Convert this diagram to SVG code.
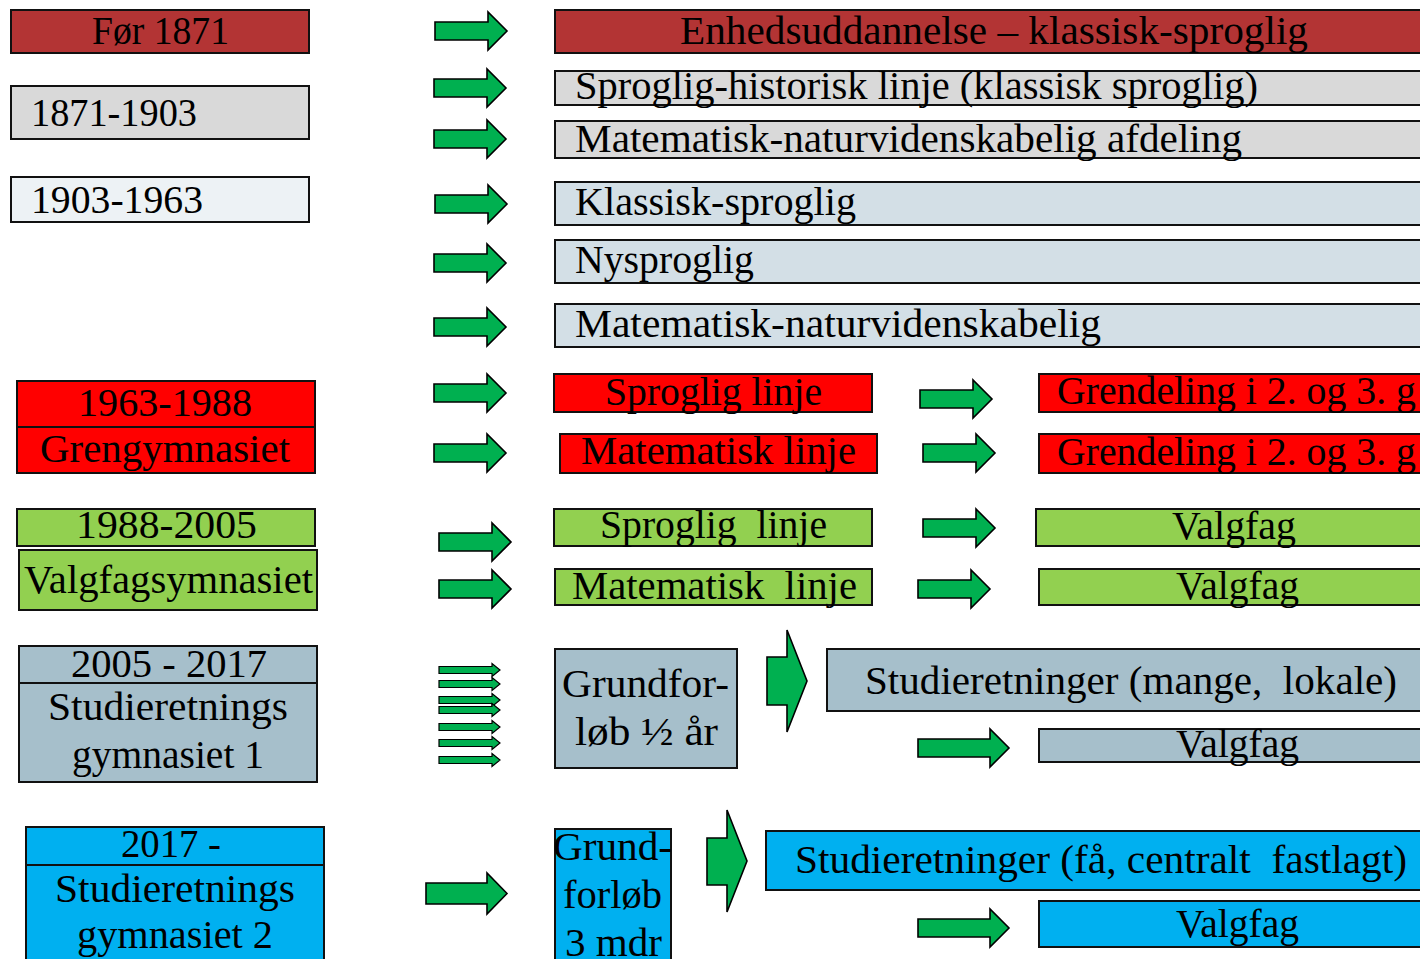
<svg xmlns="http://www.w3.org/2000/svg" xmlns:xlink="http://www.w3.org/1999/xlink" width="1420" height="959" viewBox="0 0 1420 959">
<style>
  .box { stroke: #111; stroke-width: 2; }
  .t { font-family: "Liberation Serif", "Times New Roman", serif; font-size: 40px; fill: #000; }
  .arr { fill: #00B050; stroke: #000; stroke-width: 1.6; stroke-linejoin: miter; }
  .thin { fill: #00B050; stroke: #000; stroke-width: 1.2; }
  .dkred { fill: #B33434; }
  .lgray { fill: #D9D9D9; }
  .pale { fill: #EDF2F5; }
  .lblue { fill: #D3DFE6; }
  .red { fill: #FF0000; }
  .green { fill: #92D050; }
  .steel { fill: #A6BFCB; }
  .cyan { fill: #00B0F0; }
</style>
<defs>
  <path id="arrow" d="M0,-9 H53 V-19 L72,0 L53,19 V9 H0 Z"/>
  <path id="arrowL" d="M0,-9 H72 V-19 L91,0 L72,19 V9 H0 Z"/>
  <path id="arrowT" d="M0,-3.5 H53 V-6.5 L61,0 L53,6.5 V3.5 H0 Z"/>
</defs>
<rect x="0" y="0" width="1420" height="959" fill="#fff"/>

<!-- Left column: periods -->
<g id="p-before1871">
  <rect class="box dkred" x="11" y="10" width="298" height="43"/>
  <text class="t" x="92" y="44" textLength="137" lengthAdjust="spacingAndGlyphs">Før 1871</text>
</g>
<g id="p-1871-1903">
  <rect class="box lgray" x="11" y="86" width="298" height="53"/>
  <text class="t" x="31" y="126" textLength="166" lengthAdjust="spacingAndGlyphs">1871-1903</text>
</g>
<g id="p-1903-1963">
  <rect class="box pale" x="11" y="177" width="298" height="45"/>
  <text class="t" x="31" y="213" textLength="172" lengthAdjust="spacingAndGlyphs">1903-1963</text>
</g>
<g id="p-1963-1988">
  <rect class="box red" x="17" y="381" width="298" height="92"/>
  <line x1="17" y1="427" x2="315" y2="427" stroke="#111" stroke-width="2"/>
  <text class="t" x="78" y="416" textLength="174" lengthAdjust="spacingAndGlyphs">1963-1988</text>
  <text class="t" x="40" y="462" textLength="250" lengthAdjust="spacingAndGlyphs">Grengymnasiet</text>
</g>
<g id="p-1988-2005">
  <rect class="box green" x="17" y="509" width="298" height="37"/>
  <text class="t" x="76" y="538" textLength="181" lengthAdjust="spacingAndGlyphs">1988-2005</text>
</g>
<g id="p-valgfagsgym">
  <rect class="box green" x="19" y="550" width="298" height="60"/>
  <text class="t" x="24" y="593" textLength="289" lengthAdjust="spacingAndGlyphs">Valgfagsymnasiet</text>
</g>
<g id="p-2005-2017">
  <rect class="box steel" x="19" y="646" width="298" height="136"/>
  <line x1="19" y1="683" x2="317" y2="683" stroke="#111" stroke-width="2"/>
  <text class="t" x="71" y="677" textLength="196" lengthAdjust="spacingAndGlyphs">2005 - 2017</text>
  <text class="t" x="48" y="720" textLength="240" lengthAdjust="spacingAndGlyphs">Studieretnings</text>
  <text class="t" x="72" y="768" textLength="192" lengthAdjust="spacingAndGlyphs">gymnasiet 1</text>
</g>
<g id="p-2017">
  <rect class="box cyan" x="26" y="827" width="298" height="140"/>
  <line x1="26" y1="865" x2="324" y2="865" stroke="#111" stroke-width="2"/>
  <text class="t" x="121" y="857" textLength="100" lengthAdjust="spacingAndGlyphs">2017 -</text>
  <text class="t" x="55" y="902" textLength="240" lengthAdjust="spacingAndGlyphs">Studieretnings</text>
  <text class="t" x="77" y="948" textLength="196" lengthAdjust="spacingAndGlyphs">gymnasiet 2</text>
</g>

<!-- Right column: tracks -->
<g id="r-enhed">
  <rect class="box dkred" x="555" y="10" width="875" height="43"/>
  <text class="t" x="680" y="44" textLength="628" lengthAdjust="spacingAndGlyphs">Enhedsuddannelse – klassisk-sproglig</text>
</g>
<g id="r-sproghist">
  <rect class="box lgray" x="555" y="71" width="875" height="34"/>
  <text class="t" x="575" y="99" textLength="683" lengthAdjust="spacingAndGlyphs">Sproglig-historisk linje (klassisk sproglig)</text>
</g>
<g id="r-matnat-afd">
  <rect class="box lgray" x="555" y="121" width="875" height="37"/>
  <text class="t" x="575" y="152" textLength="667" lengthAdjust="spacingAndGlyphs">Matematisk-naturvidenskabelig afdeling</text>
</g>
<g id="r-klassisk">
  <rect class="box lblue" x="555" y="182" width="875" height="43"/>
  <text class="t" x="575" y="215" textLength="281" lengthAdjust="spacingAndGlyphs">Klassisk-sproglig</text>
</g>
<g id="r-nysproglig">
  <rect class="box lblue" x="555" y="240" width="875" height="43"/>
  <text class="t" x="575" y="273" textLength="179" lengthAdjust="spacingAndGlyphs">Nysproglig</text>
</g>
<g id="r-matnat">
  <rect class="box lblue" x="555" y="304" width="875" height="43"/>
  <text class="t" x="575" y="337" textLength="526" lengthAdjust="spacingAndGlyphs">Matematisk-naturvidenskabelig</text>
</g>
<g id="r-sproglig-red">
  <rect class="box red" x="554" y="374" width="318" height="38"/>
  <text class="t" x="605" y="405" textLength="217" lengthAdjust="spacingAndGlyphs">Sproglig linje</text>
</g>
<g id="r-mat-red">
  <rect class="box red" x="560" y="434" width="317" height="39"/>
  <text class="t" x="581" y="464" textLength="275" lengthAdjust="spacingAndGlyphs">Matematisk linje</text>
</g>
<g id="r-gren1">
  <rect class="box red" x="1039" y="374" width="391" height="38"/>
  <text class="t" x="1057" y="404" textLength="359" lengthAdjust="spacingAndGlyphs">Grendeling i 2. og 3. g</text>
</g>
<g id="r-gren2">
  <rect class="box red" x="1039" y="434" width="391" height="39"/>
  <text class="t" x="1057" y="465" textLength="359" lengthAdjust="spacingAndGlyphs">Grendeling i 2. og 3. g</text>
</g>
<g id="r-sproglig-green">
  <rect class="box green" x="554" y="509" width="318" height="37"/>
  <text class="t" x="600" y="538" textLength="227" lengthAdjust="spacingAndGlyphs" xml:space="preserve">Sproglig  linje</text>
</g>
<g id="r-mat-green">
  <rect class="box green" x="555" y="569" width="317" height="36"/>
  <text class="t" x="572" y="599" textLength="285" lengthAdjust="spacingAndGlyphs" xml:space="preserve">Matematisk  linje</text>
</g>
<g id="r-valgfag1">
  <rect class="box green" x="1036" y="509" width="394" height="37"/>
  <text class="t" x="1172" y="539" textLength="124" lengthAdjust="spacingAndGlyphs">Valgfag</text>
</g>
<g id="r-valgfag2">
  <rect class="box green" x="1039" y="569" width="391" height="36"/>
  <text class="t" x="1176" y="599" textLength="123" lengthAdjust="spacingAndGlyphs">Valgfag</text>
</g>
<g id="r-grundforloeb1">
  <rect class="box steel" x="555" y="649" width="182" height="119"/>
  <text class="t" x="562" y="697" textLength="167" lengthAdjust="spacingAndGlyphs">Grundfor-</text>
  <text class="t" x="575" y="745" textLength="143" lengthAdjust="spacingAndGlyphs">løb ½ år</text>
</g>
<g id="r-studie1">
  <rect class="box steel" x="827" y="649" width="603" height="62"/>
  <text class="t" x="865" y="694" textLength="532" lengthAdjust="spacingAndGlyphs" xml:space="preserve">Studieretninger (mange,  lokale)</text>
</g>
<g id="r-valgfag3">
  <rect class="box steel" x="1039" y="729" width="391" height="33"/>
  <text class="t" x="1176" y="757" textLength="123" lengthAdjust="spacingAndGlyphs">Valgfag</text>
</g>
<g id="r-grundforloeb2">
  <rect class="box cyan" x="555" y="829" width="116" height="140"/>
  <text class="t" x="553" y="860" textLength="119" lengthAdjust="spacingAndGlyphs">Grund-</text>
  <text class="t" x="563" y="908" textLength="99" lengthAdjust="spacingAndGlyphs">forløb</text>
  <text class="t" x="565" y="956" textLength="97" lengthAdjust="spacingAndGlyphs">3 mdr</text>
</g>
<g id="r-studie2">
  <rect class="box cyan" x="766" y="831" width="664" height="59"/>
  <text class="t" x="795" y="873" textLength="612" lengthAdjust="spacingAndGlyphs" xml:space="preserve">Studieretninger (få, centralt  fastlagt)</text>
</g>
<g id="r-valgfag4">
  <rect class="box cyan" x="1039" y="901" width="391" height="46"/>
  <text class="t" x="1176" y="937" textLength="123" lengthAdjust="spacingAndGlyphs">Valgfag</text>
</g>

<!-- Connectors: block arrows -->
<g id="connectors">
  <use class="arr" href="#arrow" x="435" y="31"/>
  <use class="arr" href="#arrow" x="434" y="88"/>
  <use class="arr" href="#arrow" x="434" y="139"/>
  <use class="arr" href="#arrow" x="435" y="204"/>
  <use class="arr" href="#arrow" x="434" y="263"/>
  <use class="arr" href="#arrow" x="434" y="327"/>
  <use class="arr" href="#arrow" x="434" y="393"/>
  <use class="arr" href="#arrow" x="434" y="453"/>
  <use class="arr" href="#arrow" x="439" y="542"/>
  <use class="arr" href="#arrow" x="439" y="589"/>
  <use class="arr" href="#arrow" x="920" y="399"/>
  <use class="arr" href="#arrow" x="923" y="453"/>
  <use class="arr" href="#arrow" x="923" y="528"/>
  <use class="arr" href="#arrow" x="918" y="589"/>
  <use class="arr" href="#arrowL" x="918" y="748"/>
  <use class="arr" href="#arrowL" x="918" y="928"/>
  <path class="arr" d="M426,883 H487 V873 L507,893.5 L487,914 V904 H426 Z"/>
  <path class="arr" d="M767,657 H787 V630 L807,681 L787,732 V705 H767 Z"/>
  <path class="arr" d="M707,838 H727 V810 L747,861 L727,912 V885 H707 Z"/>
  <use class="thin" href="#arrowT" x="439" y="670"/>
  <use class="thin" href="#arrowT" x="439" y="684"/>
  <use class="thin" href="#arrowT" x="439" y="700"/>
  <use class="thin" href="#arrowT" x="439" y="710"/>
  <use class="thin" href="#arrowT" x="439" y="727"/>
  <use class="thin" href="#arrowT" x="439" y="743"/>
  <use class="thin" href="#arrowT" x="439" y="760"/>
</g>
</svg>
